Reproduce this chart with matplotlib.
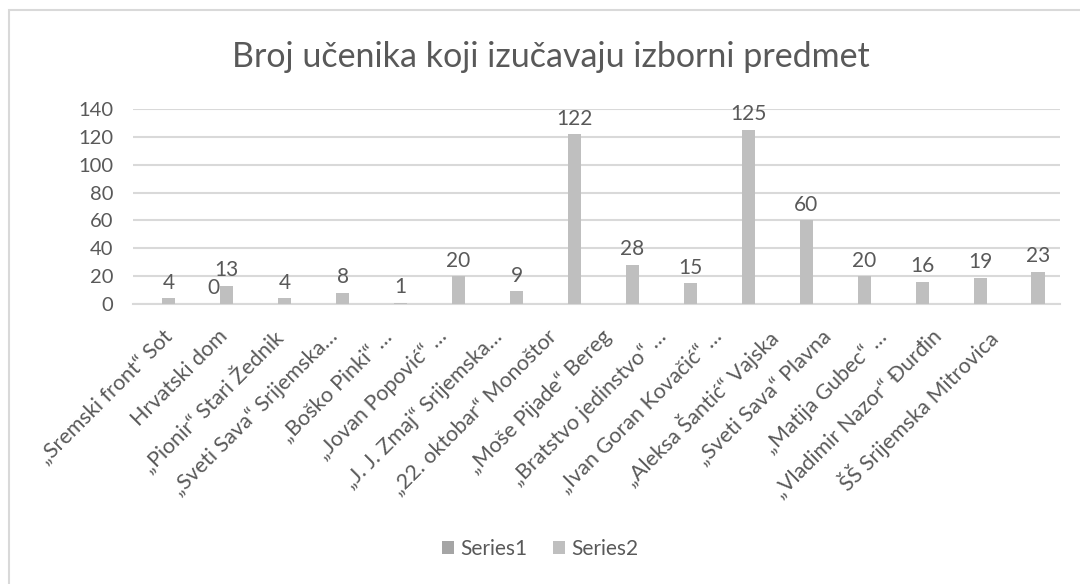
import numpy as np
import matplotlib.pyplot as plt
from matplotlib.patches import Rectangle
from matplotlib.transforms import ScaledTranslation

plt.rcParams['font.family'] = ['Lato', 'DejaVu Sans']

# ---- data
schools = ['„Sremski front“ Sot', 'Hrvatski dom', '„Pionir“ Stari Žednik',
           '„Sveti Sava“ Srijemska…', '„Boško Pinki“ …', '„Jovan Popović“ …',
           '„J. J. Zmaj“ Srijemska…', '„22. oktobar“ Monoštor', '„Moše Pijade“ Bereg',
           '„Bratstvo jedinstvo“ …', '„Ivan Goran Kovačić“ …', '„Aleksa Šantić“ Vajska',
           '„Sveti Sava“ Plavna', '„Matija Gubec“ …', '„Vladimir Nazor“ Đurđin',
           'ŠŠ Srijemska Mitrovica']
series1 = [np.nan, 0, np.nan, np.nan, np.nan, np.nan, np.nan, np.nan,
           np.nan, np.nan, np.nan, np.nan, np.nan, np.nan, np.nan, np.nan]
series2 = [4, 13, 4, 8, 1, 20, 9, 122, 28, 15, 125, 60, 20, 16, 19, 23]
yticks = [0, 20, 40, 60, 80, 100, 120, 140]

txt = '#595959'
c1 = '#A5A5A5'
c2 = '#BFBFBF'

fig = plt.figure(figsize=(10.8, 5.84), dpi=100)
fig.patches.append(Rectangle((9 / 1080, -0.1), 1.2, 1.1 - 10 / 584, transform=fig.transFigure,
                             fill=False, edgecolor='#D9D9D9', lw=1.5))
ax = fig.add_axes([133 / 1080, 1 - 304 / 584, 927 / 1080, 195 / 584])

x = np.arange(len(schools))
w = 0.225
b1 = ax.bar(x - 0.12, series1, w, color=c1, label='Series1', zorder=3)
b2 = ax.bar(x + 0.12, series2, w, color=c2, label='Series2', zorder=3)

for xi, v in zip(x, series1):
    if not np.isnan(v):
        ax.annotate(f'{v:g}', (xi - 0.12, v), xytext=(0, 4), textcoords='offset points',
                    ha='center', va='bottom', fontsize=15, color=txt)
for xi, v in zip(x, series2):
    ax.annotate(f'{v:g}', (xi + 0.12, v), xytext=(0, 4), textcoords='offset points',
                ha='center', va='bottom', fontsize=15, color=txt)

ax.set_xlim(-0.5, len(schools) - 0.5)
ax.set_ylim(0, 140)
ax.set_yticks(yticks)
ax.yaxis.grid(True, color='#D9D9D9', lw=1.5, zorder=0)
for s in ['top', 'right', 'left']:
    ax.spines[s].set_visible(False)
ax.spines['bottom'].set_color('#D9D9D9')
ax.spines['bottom'].set_linewidth(1.5)
ax.tick_params(axis='both', length=0, colors=txt, labelsize=14.5)
ax.tick_params(axis='y', pad=14)
ax.set_xticks(x)
ax.set_xticklabels(schools, rotation=45, ha='right', rotation_mode='anchor', fontsize=15.5)
ax.tick_params(axis='x', pad=16)
# excel packs the rotated labels a little tighter than the bars
for i, lab in enumerate(ax.get_xticklabels()):
    lab.set_transform(lab.get_transform() + ScaledTranslation(-3 * i / 100, 0, fig.dpi_scale_trans))

fig.text(0.51, 1 - 57 / 584, 'Broj učenika koji izučavaju izborni predmet',
         ha='center', va='center', fontsize=24.5, color=txt)
fig.legend(handles=[b1, b2], loc='center', bbox_to_anchor=(0.5, 1 - 549 / 584), ncol=2,
           frameon=False, fontsize=15, labelcolor=txt, handlelength=0.6, handleheight=0.6,
           handletextpad=0.3, columnspacing=1.2)

fig.savefig('out.png', dpi=100, facecolor='white')
